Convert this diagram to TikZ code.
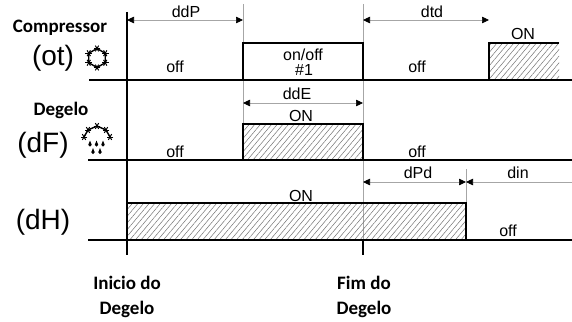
\documentclass[tikz,border=0pt]{standalone}
\usepackage{fontspec}
\setmainfont{Liberation Sans}
\newfontfamily\calibrifont{Carlito}
\usepackage{tikz}
\usetikzlibrary{arrows.meta,patterns.meta}

\tikzset{
	>={Triangle[length=7pt,width=6.5pt,color=black]},
	sig/.style={line width=1.7pt},
	marker/.style={gray!70,line width=0.7pt},
	dim/.style={gray!70,line width=0.7pt},
	hatch/.style={pattern={Lines[angle=50,distance=4.3pt,line width=0.5pt]},pattern color=black!55},
	lbl/.style={font=\fontsize{16}{18}\selectfont,inner sep=0pt,anchor=base},
	signame/.style={font=\fontsize{28}{30}\selectfont,inner sep=0pt,anchor=base},
	heading/.style={font=\calibrifont\bfseries\fontsize{19}{25}\selectfont,inner sep=0pt,align=center},
}

\begin{document}
\begin{tikzpicture}[x=1pt,y=-1pt]
	\useasboundingbox (0,0) rectangle (572,321);
	\draw[marker] (243,4) -- (243,160);
	\draw[marker] (363,4) -- (363,240);
	\draw[marker] (466,169) -- (466,203);
	\draw[line width=2.2pt] (127,12) -- (127,255);
	\draw[line width=1.7pt] (363,240) -- (363,255);

	\fill[hatch] (489,43) rectangle (559,80);
	\fill[hatch] (243,124) rectangle (363,160);
	\fill[hatch] (127,203) rectangle (466,240);
	\draw[sig] (89,80) -- (572,80);
	\draw[sig] (243,80) |- (363,43) -- (363,80);
	\draw[sig] (489,80) |- (559,43);
	\draw[sig] (88,160) -- (572,160);
	\draw[sig] (243,160) |- (363,124) -- (363,160);
	\draw[sig] (88,240) -- (572,240);
	\draw[sig] (127,240) |- (466,203) -- (466,240);

	\coordinate (ddP-l) at (127,20);
	\coordinate (ddP-r) at (243,20);
	\coordinate (dtd-l) at (363,20);
	\coordinate (dtd-r) at (489,20);
	\coordinate (ddE-l) at (243,103);
	\coordinate (ddE-r) at (363,103);
	\coordinate (dPd-l) at (363,182);
	\coordinate (dPd-r) at (466,182);
	\coordinate (din-r) at (572,182);
	\draw[dim,<->] (ddP-l) -- (ddP-r);
	\draw[dim,<->] (dtd-l) -- (dtd-r);
	\draw[dim,<->] (ddE-l) -- (ddE-r);
	\draw[dim,<->] (dPd-l) -- (dPd-r);
	\draw[dim,<-] (dPd-r) -- (din-r);

	\node[lbl] (ddP) at (186,18) {ddP};
	\node[lbl] (dtd) at (432,18) {dtd};
	\node[lbl] (ot-off1) at (175,72) {off};
	\node[lbl] (ot-onoff) at (303,60) {on/off};
	\node[lbl] (ot-num) at (304,75) {\#1};
	\node[lbl] (ot-off2) at (417,72) {off};
	\node[lbl] (ot-on) at (523,40) {ON};
	\node[lbl] (ddE) at (297,99) {ddE};
	\node[lbl] (dF-on) at (301,121) {ON};
	\node[lbl] (dF-off1) at (175,157) {off};
	\node[lbl] (dF-off2) at (417,157) {off};
	\node[lbl] (dPd) at (418,178) {dPd};
	\node[lbl] (din) at (518,178) {din};
	\node[lbl] (dH-on) at (301,201) {ON};
	\node[lbl] (dH-off) at (508,236) {off};

	\node[heading,anchor=base] (comp) at (60,33) {Compressor};
	\node[heading,anchor=base] (degelo) at (61,115) {Degelo};
	\node[signame] (ot) at (53,66) {(ot)};
	\node[signame] (dF) at (43,152) {(dF)};
	\node[signame] (dH) at (43,229) {(dH)};
	\node[heading,anchor=north] (inicio) at (127,276) {Inicio do\\Degelo};
	\node[heading,anchor=north] (fim) at (364,276) {Fim do\\Degelo};

	\draw[line width=1.4pt] (97,58) +(30:9.5) -- +(90:9.5) -- +(150:9.5) -- +(210:9.5) -- +(270:9.5) -- +(330:9.5) -- cycle;
	\foreach \a in {30,90,...,330}
		\foreach \b in {0,60,120}
			\draw[line width=1pt] (97,58) ++(\a:9.5) +(\b:3.3) -- +(\b+180:3.3);
	\draw[line width=1.4pt] (84,137) -- (88,130) -- (97,126) -- (106,130) -- (110,137);
	\foreach \x/\y in {84/137,88/130,97/126,106/130,110/137}
		\foreach \b in {0,60,120}
			\draw[line width=1pt] (\x,\y) +(\b:3.3) -- +(\b+180:3.3);
	\foreach \x/\y in {90/145,96.5/145,103/145,93/152.5,100/152.5}
		\fill (\x,\y) circle[radius=1.7] (\x-1.65,\y-0.4) -- (\x,\y-4.4) -- (\x+1.65,\y-0.4) -- cycle;
\end{tikzpicture}
\end{document}
